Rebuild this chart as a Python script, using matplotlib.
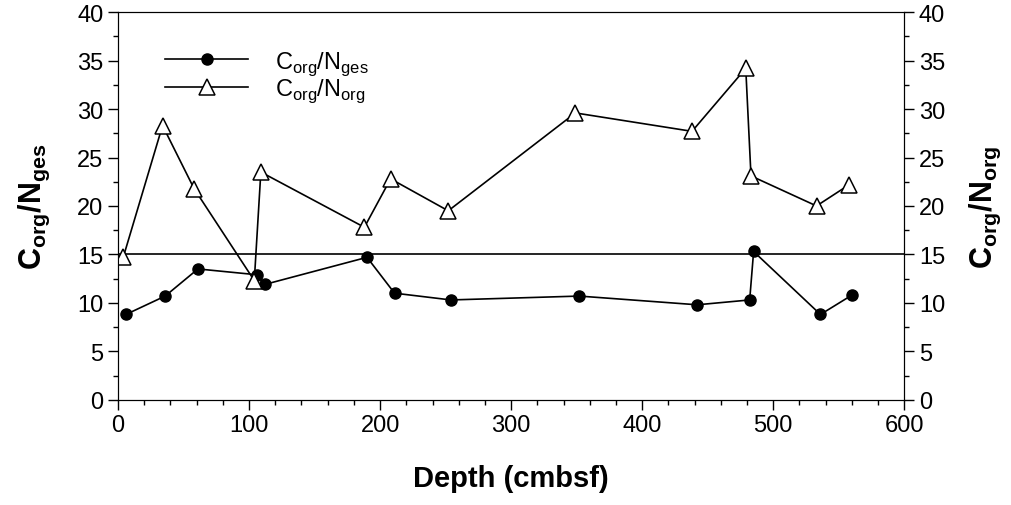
import numpy as np
import matplotlib.pyplot as plt
from matplotlib.ticker import MultipleLocator

plt.rcParams['font.family'] = ['Liberation Sans', 'DejaVu Sans']
plt.rcParams['mathtext.fontset'] = 'custom'
plt.rcParams['mathtext.rm'] = 'Liberation Sans'
plt.rcParams['mathtext.bf'] = 'Liberation Sans:bold'

# Corg/Nges (filled circles, left axis)
depth_ges = [6, 36, 61, 106, 112, 190, 211, 254, 352, 442, 482, 485, 536, 560]
ratio_ges = [8.8, 10.7, 13.5, 12.9, 11.9, 14.7, 11.0, 10.3, 10.7, 9.8, 10.3, 15.3, 8.8, 10.8]

# Corg/Norg (open triangles, right axis)
depth_org = [4, 34, 58, 104, 109, 188, 208, 252, 349, 438, 479, 483, 533, 558]
ratio_org = [14.7, 28.3, 21.8, 12.3, 23.5, 17.8, 22.8, 19.5, 29.6, 27.7, 34.2, 23.1, 20.0, 22.2]

ref_level = 15

lab_ges = 'C$_\\mathregular{org}$/N$_\\mathregular{ges}$'
lab_org = 'C$_\\mathregular{org}$/N$_\\mathregular{org}$'

fig = plt.figure(figsize=(10.12, 5.06), dpi=100)
ax = fig.add_axes([0.1166, 0.208, 0.777, 0.766])
ax2 = ax.twinx()

ax.axhline(ref_level, color='black', lw=1.2, zorder=1)

l1, = ax.plot(depth_ges, ratio_ges, color='black', lw=1.2, marker='o',
              markersize=8, markerfacecolor='black', label=lab_ges)
l2, = ax2.plot(depth_org, ratio_org, color='black', lw=1.2, marker='^',
               markersize=11, markerfacecolor='white', markeredgewidth=1.1,
               label=lab_org)

for a in (ax, ax2):
    a.set_ylim(0, 40)
    a.yaxis.set_major_locator(MultipleLocator(5))
    a.yaxis.set_minor_locator(MultipleLocator(2.5))
    a.tick_params(which='major', length=7, width=1, labelsize=17, direction='out')
    a.tick_params(which='minor', length=3.5, width=1, direction='out')

ax.set_xlim(0, 600)
ax.xaxis.set_major_locator(MultipleLocator(100))
ax.xaxis.set_minor_locator(MultipleLocator(20))
ax.tick_params(axis='x', which='both', top=False)

ax.set_xlabel('Depth (cmbsf)', fontsize=21, fontweight='bold', labelpad=20)
ax.set_ylabel(lab_ges, fontsize=22, fontweight='bold', labelpad=18)
ax2.set_ylabel(lab_org, fontsize=22, fontweight='bold', labelpad=16)

ax.legend(handles=[l1, l2], loc='upper left', bbox_to_anchor=(0.033, 0.96),
          frameon=False, fontsize=17, handlelength=3.5, numpoints=1,
          handletextpad=1.15, labelspacing=0.0)

fig.savefig('out.png', dpi=100)
